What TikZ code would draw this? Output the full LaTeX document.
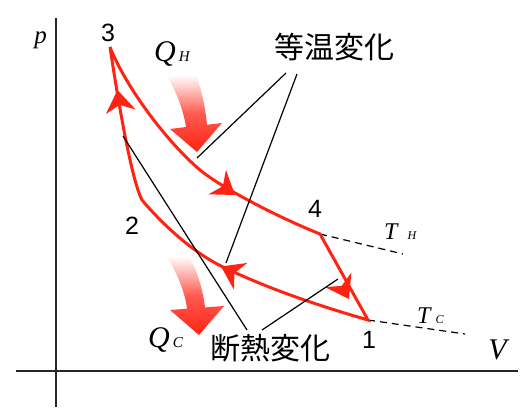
\documentclass[tikz,border=0pt]{standalone}
\usepackage{fontspec}
\setmainfont{Liberation Serif}
\newfontfamily\numfont{Liberation Sans}
\newfontfamily\cjkfont{Noto Sans CJK JP}
\usetikzlibrary{arrows.meta}
\definecolor{cyc}{RGB}{255,35,20}
\begin{document}
\begin{tikzpicture}[x=1pt,y=-1pt,
  cycleline/.style={draw=cyc, line width=3pt, line join=miter, miter limit=3},
  arrowhead/.style={fill=cyc},
  axisline/.style={draw=black!85, line width=1.4pt},
  leader/.style={draw=black, line width=1.2pt},
  isodash/.style={draw=black, line width=1.2pt, dash pattern=on 7pt off 5pt},
  numlabel/.style={inner sep=0pt, font=\numfont\fontsize{25}{25}\selectfont},
  cjklabel/.style={inner sep=0pt, font=\cjkfont\fontsize{30}{30}\selectfont},
  heatarrow/.style={top color=white, bottom color=cyc, middle color=cyc!75},
  varlabel/.style={inner sep=0pt, anchor=base west}
]
\useasboundingbox (0,0) rectangle (524,407);
% axes
\coordinate (yaxtop) at (56,18);
\coordinate (yaxbot) at (56,407);
\coordinate (xaxl) at (16,371);
\coordinate (xaxr) at (518,371);
\draw[axisline] (yaxtop) -- (yaxbot);
\draw[axisline] (xaxl) -- (xaxr);
% state points
\coordinate (p3) at (110,47);
\coordinate (p4) at (320,234);
\coordinate (p1) at (368,320);
\coordinate (p2) at (142,200);
\coordinate (thend) at (403,254);
\coordinate (tcend) at (465,334);
% isotherm continuations
\draw[isodash] (p4) -- (thend);
\draw[isodash] (p1) -- (tcend);
% heat arrows
\shade[heatarrow] (167,75) .. controls (176,92) and (183,108) .. (186,127)
  -- (170,129) -- (197,152) -- (222,123) -- (207,124.7)
  .. controls (205,105) and (201,88) .. (196,75) -- cycle;
\shade[heatarrow] (168,258) .. controls (178,276) and (185,292) .. (187,308.7)
  -- (170,310) -- (199,335) -- (224,306) -- (205,307.4)
  .. controls (203,290) and (197,270) .. (189,256) -- cycle;
% cycle
\draw[cycleline]
  (p3) .. controls (125,85.5) and (165.6,140.8) .. (200,170)
       .. controls (221.7,187.8) and (275.7,216.2) .. (p4)
  -- (p1) .. controls (320,306) and (271,290) .. (223,267)
       .. controls (193,252.6) and (162,224) .. (p2)
       .. controls (132,181) and (119,107) .. cycle;
% direction arrowheads
\coordinate (a34t) at (235,195);
\coordinate (a41t) at (349,299);
\coordinate (a12t) at (221,266.5);
\coordinate (a23t) at (117.5,90);
\fill[arrowhead, shift={(a34t)}, rotate=-35.8] (0,0) -- (-22,15) -- (-15,0) -- (-22,-15) -- cycle;
\fill[arrowhead, shift={(a41t)}, rotate=-60.8] (0,0) -- (-22,15) -- (-15,0) -- (-22,-15) -- cycle;
\fill[arrowhead, shift={(a12t)}, rotate=153.4] (0,0) -- (-22,15) -- (-15,0) -- (-22,-15) -- cycle;
\fill[arrowhead, shift={(a23t)}, rotate=98.5] (0,0) -- (-22,15) -- (-15,0) -- (-22,-15) -- cycle;
% labels
\node[numlabel] (n3) at (108,32.5) {3};
\node[numlabel] (n2) at (132,226) {2};
\node[numlabel] (n4) at (315,209) {4};
\node[numlabel] (n1) at (369,340) {1};
\node[inner sep=0pt, font=\itshape\fontsize{25}{25}\selectfont] (plab) at (40.5,40) {p};
\node[inner sep=0pt, font=\itshape\fontsize{30}{30}\selectfont] (vlab) at (497.5,350) {V};
\node[varlabel] (qh) at (154,61) {\fontsize{30}{30}\selectfont\itshape Q\hspace{3pt}\fontsize{15}{15}\selectfont H};
\node[varlabel] (qc) at (148,347) {\fontsize{30}{30}\selectfont\itshape Q\hspace{3pt}\fontsize{15}{15}\selectfont C};
\node[varlabel] (th) at (384,239) {\fontsize{24}{24}\selectfont\itshape T\hspace{10pt}\fontsize{12}{12}\selectfont H};
\node[varlabel] (tc) at (417,323) {\fontsize{24}{24}\selectfont\itshape T\hspace{5pt}\fontsize{12}{12}\selectfont C};
\node[cjklabel] (iso) at (334,47) {等温変化};
\node[cjklabel] (adi) at (270,348) {断熱変化};
% leader lines
\coordinate (l1a) at (286,73);
\coordinate (l1b) at (197,158);
\coordinate (l2a) at (297,74);
\coordinate (l2b) at (226,263);
\coordinate (l3a) at (123,136);
\coordinate (l3b) at (247,330);
\coordinate (l4a) at (338,279);
\coordinate (l4b) at (262,330);
\draw[leader] (l1a) -- (l1b);
\draw[leader] (l2a) -- (l2b);
\draw[leader] (l3a) -- (l3b);
\draw[leader] (l4a) -- (l4b);
\end{tikzpicture}
\end{document}
